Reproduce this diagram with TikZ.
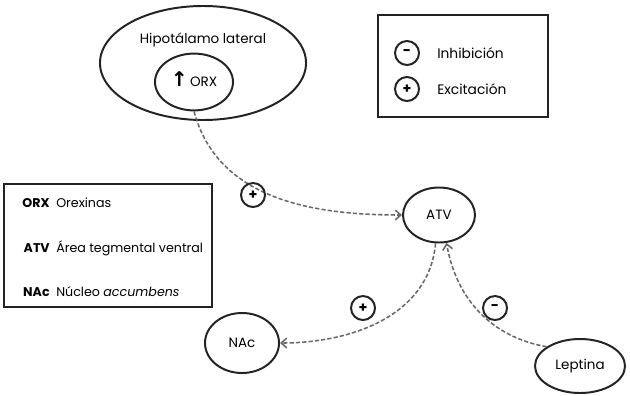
\documentclass[tikz,border=0pt]{standalone}
\usepackage{fontspec}
\setmainfont{Poppins}
\newfontfamily\symfont{DejaVu Sans}
\usetikzlibrary{arrows.meta,positioning,shapes.geometric}
\definecolor{inkdark}{RGB}{35,35,35}
\definecolor{linkgray}{RGB}{105,105,105}

\begin{document}
\begin{tikzpicture}[x=0.025cm, y=-0.025cm,
      region/.style={ellipse, draw=inkdark, line width=1.4pt, inner sep=0pt, font=\fontsize{9.6}{11}\selectfont},
      sign/.style={circle, draw=inkdark, line width=1.4pt, minimum size=0.6cm, inner sep=0pt, font=\bfseries\normalsize},
      legbox/.style={draw=inkdark, line width=1.6pt, inner sep=0pt},
      link/.style={draw=linkgray, line width=1.1pt, dash pattern=on 3pt off 1.5pt, -{Straight Barb[length=4pt,width=7pt]}},
      abbr/.style={font=\bfseries\small, anchor=east, inner sep=0pt},
      desc/.style={font=\small, anchor=west, inner sep=0pt}
    ]
      \useasboundingbox (0,0) rectangle (630,395);

      % Hypothalamus with orexin neurons
      \node[region, minimum width=5.15cm, minimum height=2.85cm] (hip) at (203,63) {};
      \node[font=\fontsize{9.6}{11}\selectfont] (hiplbl) at (203,40) {Hipotálamo lateral};
      \node[region, minimum width=1.95cm, minimum height=1.42cm] (orx) at (194,82) {\smash{\symfont\bfseries\Large ↑}\,ORX};

      % Target regions
      \node[region, minimum width=1.8cm, minimum height=1.375cm] (atv) at (439,215) {ATV};
      \node[region, minimum width=1.85cm, minimum height=1.5cm] (nac) at (242,343) {NAc};
      \node[region, minimum width=2.25cm, minimum height=1.35cm] (lep) at (580,366) {Leptina};

      % Connections
      \draw[link] (orx.south) to[out=-75, in=180] (atv.west);
      \draw[link] (atv.-97) to[out=-95, in=0] (nac.east);
      \draw[link] (lep.150) to[out=170, in=-80] (atv.-75);

      \node[sign] (plusa) at (253,195) {+};
      \node[sign] (plusb) at (363,308) {+};
      \node[sign] (minus) at (495,308) {-};

      % Legend: signs
      \node[legbox, minimum width=4.25cm, minimum height=2.55cm] (signkey) at (463,66) {};
      \node[sign] (keyminus) at (407,53) {-};
      \node[sign] (keyplus) at (407,89) {+};
      \node[desc, font=\fontsize{9.8}{11}\selectfont] (inhlbl) at (437,53) {Inhibición};
      \node[desc, font=\fontsize{9.8}{11}\selectfont] (exclbl) at (437,89) {Excitación};

      % Legend: abbreviations
      \node[legbox, minimum width=5.2cm, minimum height=3.075cm] (abbrkey) at (108,245.5) {};
      \node[abbr] (orxabbr) at (50,203) {ORX};
      \node[desc] (orxdesc) at (56,203) {Orexinas};
      \node[abbr] (atvabbr) at (50,248) {ATV};
      \node[desc] (atvdesc) at (56,248) {Área tegmental ventral};
      \node[abbr] (nacabbr) at (50,292) {NAc};
      \node[desc] (nacdesc) at (56,292) {Núcleo \textit{accumbens}};
    \end{tikzpicture}
\end{document}
